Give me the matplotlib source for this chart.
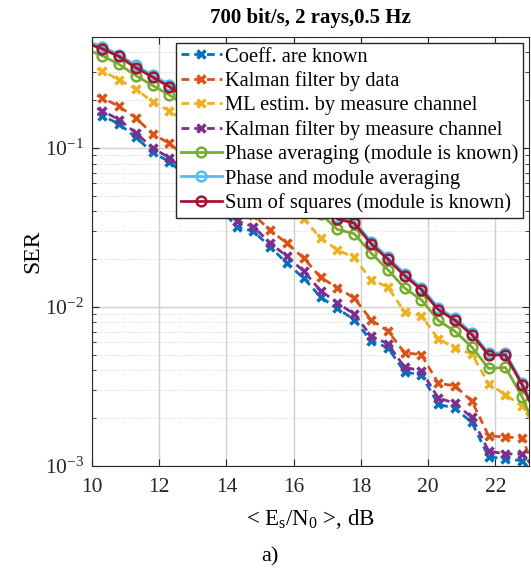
import matplotlib
matplotlib.use("Agg")
import matplotlib.pyplot as plt
import numpy as np

plt.rcParams['font.family'] = 'Liberation Serif'
plt.rcParams['mathtext.fontset'] = 'custom'
plt.rcParams['mathtext.rm'] = 'Liberation Serif'
plt.rcParams['mathtext.it'] = 'Liberation Serif:italic'
plt.rcParams['mathtext.bf'] = 'Liberation Serif:bold'

# Es/N0 grid (dB)
snr = [9.8, 10.3, 10.8, 11.3, 11.8, 12.3, 12.8, 13.3, 13.8, 14.3, 14.8, 15.3, 15.8, 16.3,
       16.8, 17.3, 17.8, 18.3, 18.8, 19.3, 19.8, 20.3, 20.8, 21.3, 21.8, 22.3, 22.8, 23.3]

ser_known = [0.175, 0.160, 0.142, 0.117, 0.094, 0.082, 0.067, 0.054, 0.042, 0.0321, 0.0299,
             0.0240, 0.0188, 0.0152, 0.01156, 0.0098, 0.00832, 0.00614, 0.00555, 0.00391,
             0.00373, 0.00245, 0.0023, 0.00188, 0.00114, 0.00111, 0.00108, 0.0008]
ser_kalman_data = [0.23, 0.208, 0.183, 0.155, 0.123, 0.107, 0.0882, 0.0719, 0.0579, 0.0473,
                   0.0381, 0.0304, 0.0252, 0.0203, 0.0154, 0.0132, 0.0114, 0.00832, 0.00707,
                   0.00516, 0.00501, 0.00332, 0.00319, 0.00256, 0.00155, 0.00152, 0.0015, 0.0008]
ser_ml = [0.34, 0.306, 0.269, 0.236, 0.195, 0.172, 0.146, 0.123, 0.102, 0.0844, 0.0698,
          0.0571, 0.0453, 0.0358, 0.0272, 0.0229, 0.0205, 0.01485, 0.01337, 0.00931,
          0.00881, 0.00632, 0.00552, 0.00508, 0.00329, 0.00281, 0.00237, 0.0016]
ser_kalman_meas = [0.19, 0.172, 0.151, 0.125, 0.100, 0.087, 0.071, 0.057, 0.045, 0.0349,
                   0.0321, 0.0253, 0.0208, 0.0168, 0.01267, 0.01064, 0.00902, 0.00659,
                   0.00587, 0.00418, 0.00397, 0.00268, 0.00248, 0.00202, 0.00124, 0.00119,
                   0.00119, 0.0009]
ser_phase = [0.42, 0.382, 0.337, 0.286, 0.248, 0.216, 0.185, 0.155, 0.130, 0.108, 0.0894,
             0.0741, 0.0605, 0.0487, 0.0386, 0.0308, 0.0289, 0.0219, 0.0172, 0.01316,
             0.01111, 0.00824, 0.00703, 0.00561, 0.00411, 0.00417, 0.00272, 0.0015]
ser_phase_mod = [0.475, 0.435, 0.388, 0.331, 0.288, 0.250, 0.213, 0.179, 0.150, 0.127,
                 0.105, 0.087, 0.071, 0.058, 0.046, 0.0369, 0.0347, 0.0258, 0.0206, 0.0162,
                 0.01324, 0.00991, 0.00849, 0.0069, 0.00514, 0.00514, 0.00333, 0.00196]
ser_squares = [0.46, 0.422, 0.377, 0.321, 0.280, 0.243, 0.207, 0.174, 0.146, 0.123, 0.102,
               0.0844, 0.0689, 0.0562, 0.0446, 0.0358, 0.0337, 0.0250, 0.0200, 0.01574,
               0.01285, 0.00962, 0.00824, 0.0067, 0.00499, 0.00499, 0.00323, 0.0019]

labels = ['Coeff. are known', 'Kalman filter by data', 'ML estim. by measure channel',
          'Kalman filter by measure channel', 'Phase averaging (module is known)',
          'Phase and module averaging', 'Sum of squares (module is known)']
colors = ['#0072BD', '#D95319', '#EDB120', '#7E2F8E', '#77AC30', '#4DBEEE', '#A2142F']

fig = plt.figure(figsize=(5.31, 5.71), dpi=100)
ax = fig.add_axes([0.1733, 0.1839, 0.8229, 0.7513])

dashed = [ser_known, ser_kalman_data, ser_ml, ser_kalman_meas]
for i, ser in enumerate(dashed):
    ax.semilogy(snr, ser, '--', color=colors[i], lw=2, marker='x', ms=5.5, mew=2.5,
                dashes=(2.8, 1.8), label=labels[i])
solid = [ser_phase, ser_phase_mod, ser_squares]
for i, ser in enumerate(solid):
    ax.semilogy(snr, ser, '-', color=colors[4 + i], lw=2, marker='o', ms=7, mew=1.8,
                mfc='none', label=labels[4 + i])

ax.set_xlim(10, 23)
ax.set_ylim(1e-3, 0.5)
ax.set_xticks([10, 12, 14, 16, 18, 20, 22])
ax.tick_params(which='both', direction='in', top=True, right=True, labelsize=15.5,
               colors='#262626')
ax.tick_params(which='major', length=5)
ax.tick_params(which='minor', length=3)
ax.tick_params(axis='x', pad=9)
ax.tick_params(axis='y', pad=6)
for s in ax.spines.values():
    s.set_color('#262626')
ax.grid(True, which='major', color='#d0d0d0', lw=1)
ax.grid(True, which='minor', axis='y', color='#d8d8d8', lw=0.8, ls=':')
ax.set_axisbelow(True)

ax.set_title('700 bit/s, 2 rays,0.5 Hz', fontsize=15, fontweight='bold', pad=10)
ax.set_ylabel('SER', fontsize=17, labelpad=1)
ax.set_xlabel(r'< E$_\mathregular{s}$/N$_\mathregular{0}$ >, dB', fontsize=16.5, labelpad=7)
fig.text(0.508, 0.016, 'a)', fontsize=16, ha='center')

leg = ax.legend(loc='upper right', bbox_to_anchor=(0.9863, 0.9867), borderaxespad=0,
                fontsize=14.8, fancybox=False, framealpha=1, edgecolor='#262626',
                handlelength=2.0, handletextpad=0.15, labelspacing=0.23, borderpad=0.22)
leg.get_frame().set_linewidth(1)

fig.savefig('out.png', dpi=100)
